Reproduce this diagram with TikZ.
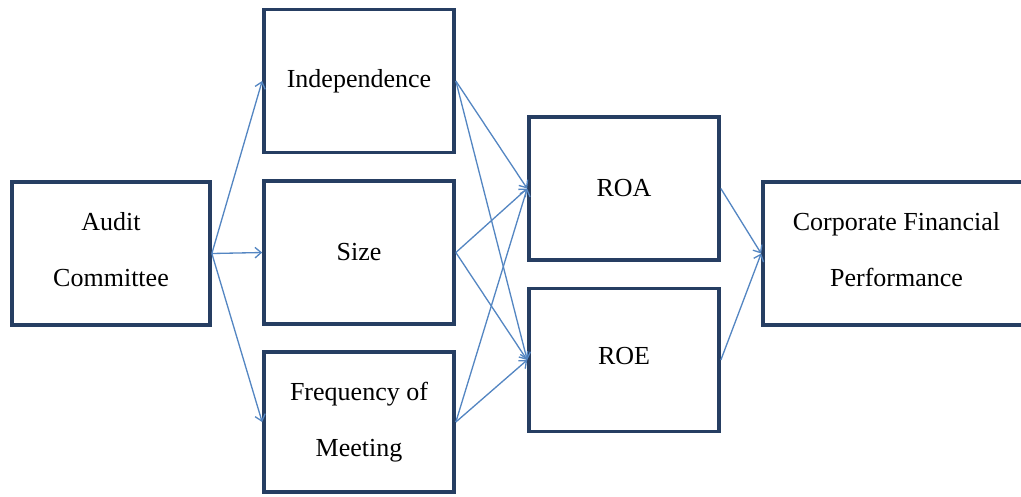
\documentclass[tikz,border=0pt]{standalone}
\usepackage{fontspec}
\setmainfont{Liberation Serif}
\usetikzlibrary{arrows.meta,positioning}
\definecolor{boxnavy}{RGB}{38,62,98}
\definecolor{linkblue}{RGB}{84,134,194}
% text that sits on the node centre line
\newcommand{\boxtext}[1]{\raisebox{0pt}[0pt][0pt]{\begin{tabular}{@{}c@{}}#1\end{tabular}}}

\begin{document}
\begin{tikzpicture}[
  box/.style={draw=boxnavy, line width=2.1pt, fill=white, minimum width=3.8cm,
    minimum height=2.86cm, align=center, inner sep=0pt,
    font=\fontsize{14.8}{32}\selectfont},
  link/.style={draw=linkblue, line width=0.75pt, -{Straight Barb[length=3.5pt,width=6pt]}}
]
\useasboundingbox (0,0) rectangle (20.42,-9.92);
% Audit committee and its three dimensions
\node[box, minimum width=3.96cm] (audit) at (2.22,-5.07) {\boxtext{Audit\\Committee}};
\node[box] (indep) at (7.18,-1.62) {Independence};
\node[box] (size) at (7.18,-5.05) {Size};
\node[box, minimum height=2.80cm] (freq) at (7.18,-8.44) {Frequency of\\Meeting};
% Performance measures
\node[box] (roa) at (12.48,-3.77) {ROA};
\node[box] (roe) at (12.48,-7.20) {\boxtext{ROE}};
\node[box, minimum width=5.34cm] (corp) at (17.93,-5.07) {\boxtext{Corporate Financial\\Performance}};
% Links
\draw[link] (audit.east) -- (indep.west);
\draw[link] (audit.east) -- (size.west);
\draw[link] (audit.east) -- (freq.west);
\foreach \src in {indep,size,freq}{
  \draw[link] (\src.east) -- (roa.west);
  \draw[link] (\src.east) -- (roe.west);
}
\draw[link] (roa.east) -- (corp.west);
\draw[link] (roe.east) -- (corp.west);
\end{tikzpicture}
\end{document}
